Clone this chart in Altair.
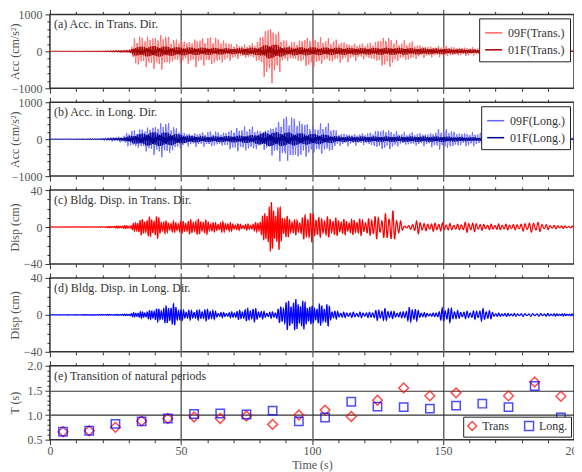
import numpy as np
import pandas as pd
import altair as alt

alt.data_transformers.disable_max_rows()

FONT = "Liberation Serif"
W, H = 525, 74

# ---------------- data ----------------
# amplitude envelopes (time in s, peak amplitude)
ACC_T09_TIME = [0, 10, 20, 24, 31, 32.5, 34, 37, 40, 44, 46, 50, 53, 56, 58, 62, 66, 70, 74, 78,
                80, 81, 83, 85, 87, 88, 89, 91, 94, 96, 99, 102, 106, 110, 115, 120, 124, 127, 130, 133,
                137, 141, 146, 150, 155, 160, 165, 170, 175, 180, 185, 190, 195, 200]
ACC_T09_AMP = [10, 15, 25, 40, 60, 480, 450, 480, 500, 560, 380, 380, 350, 450, 420, 450, 350, 250, 200, 260,
               400, 650, 880, 860, 700, 550, 400, 300, 300, 380, 520, 450, 380, 350, 280, 250, 300, 480, 470, 300,
               320, 200, 170, 180, 130, 140, 110, 110, 100, 110, 100, 80, 50, 30]
ACC_T01_TIME = [0, 20, 30, 32.5, 40, 45, 50, 60, 70, 80, 83, 86, 90, 100, 110, 120, 130, 140, 150, 160,
                170, 180, 190, 200]
ACC_T01_AMP = [5, 12, 30, 120, 150, 130, 110, 100, 80, 110, 200, 190, 110, 110, 100, 90, 100, 85, 75, 55,
               45, 40, 30, 15]
ACC_L09_TIME = [0, 18, 22, 28, 30, 34, 38, 41, 44, 46, 49, 52, 58, 62, 66, 70, 74, 78, 80, 83,
                86, 89, 92, 95, 98, 101, 104, 107, 110, 118, 122, 126, 130, 134, 140, 145, 148, 152, 156, 162,
                166, 170, 180, 190, 200]
ACC_L09_AMP = [5, 20, 60, 100, 250, 300, 400, 480, 570, 450, 320, 200, 220, 250, 200, 350, 380, 380, 250, 350,
               500, 720, 700, 600, 550, 400, 500, 450, 200, 180, 200, 320, 300, 200, 200, 200, 320, 300, 200, 220,
               150, 80, 80, 60, 40]
ACC_L01_TIME = [0, 20, 28, 32, 38, 44, 48, 52, 60, 70, 78, 82, 90, 98, 104, 110, 130, 150, 160, 170, 185, 200]
ACC_L01_AMP = [5, 15, 45, 115, 190, 190, 150, 100, 75, 90, 115, 190, 190, 150, 135, 75, 75, 75, 55, 40, 30, 20]
DISP_T_TIME = [0, 20, 25, 31, 33, 36, 39, 41, 43, 46, 50, 53, 57, 60, 63, 67, 70, 74, 78, 80,
               81.5, 83.5, 86, 87.5, 89, 92, 95, 97, 99, 101, 103, 106, 110, 114, 118, 121, 124, 126, 129, 131,
               133, 135, 137, 139, 141, 143, 148, 152, 156, 159, 162, 166, 172, 178, 182, 186, 189, 195, 200]
DISP_T_AMP = [0.1, 0.3, 1, 2, 7, 10, 12, 13, 8, 6, 7, 8, 9, 8, 5, 6, 4, 3, 4, 8,
              14, 30, 24, 26, 15, 10, 8, 14, 18, 16, 11, 12, 10, 8, 10, 8, 15, 10, 17, 18,
              10, 2, 1.5, 6, 8, 4, 5, 4, 3, 6, 5, 3, 3.5, 3, 5, 6, 3, 1.5, 1]
DISP_L_TIME = [0, 25, 30, 33, 37, 40, 43, 46, 48, 50, 54, 58, 61, 64, 68, 72, 75, 78, 80, 83,
               86, 88, 90, 93, 96, 98, 100, 103, 106, 108, 112, 118, 122, 125, 128, 131, 134, 137, 139, 141,
               144, 147, 150, 153, 156, 161, 165, 167, 170, 180, 190, 200]
DISP_L_AMP = [0.1, 0.5, 1, 3, 4, 7, 8, 12.5, 12, 6, 5, 6, 7, 3, 2.5, 5, 7, 8, 5, 3,
              4, 10, 16, 18, 17, 15, 10, 12, 13, 5, 3, 3, 3, 6, 7, 4, 3, 8, 9, 4,
              2, 2, 8, 8, 4, 4, 7, 6, 2, 1.5, 1.5, 1]

# natural periods (panel e)
PERIOD_TIME = [5, 15, 25, 35, 45, 55, 65, 75, 85, 95, 105, 115, 125, 135, 145, 155, 165, 175, 185, 195]
PERIOD_TRANS = [0.66, 0.68, 0.75, 0.88, 0.93, 0.96, 0.93, 0.98, 0.81, 1.00, 1.10, 0.97, 1.30, 1.55, 1.39,
                1.45, None, 1.39, 1.67, 1.38]
PERIOD_LONG = [0.66, 0.68, 0.82, 0.87, 0.93, 1.02, 1.03, 1.01, 1.09, 0.87, 0.95, 1.27, 1.17, 1.16, 1.13,
               1.19, 1.23, 1.16, 1.59, 0.95]

SER_T = ["09F(Trans.)", "01F(Trans.)"]
SER_L = ["09F(Long.)", "01F(Long.)"]
COL_T = ["#ff6464", "#a00000"]
COL_L = ["#6464ff", "#00008f"]
LABELS = ["(a) Acc. in Trans. Dir.", "(b) Acc. in Long. Dir.", "(c) Bldg. Disp. in Trans. Dir.",
          "(d) Bldg. Disp. in Long. Dir.", "(e) Transition of natural periods"]

# ---------------- traces (envelopes above carry the amplitudes) ----------------
DT_A, DT_D = 0.05, 0.1
t_acc = np.round(np.arange(0, 200 + 1e-9, DT_A), 2)
t_disp = np.round(np.arange(0, 200 + 1e-9, DT_D), 2)


def acc_trace(kt, ka, upper):
    env = np.interp(t_acc, kt, ka)
    if upper:
        m = 0.5 + 0.5 * np.abs(np.sin(2 * np.pi * t_acc / 2.9 + 0.3) * np.cos(2 * np.pi * t_acc / 5.3))
        c = np.sin(2 * np.pi * t_acc / 1.0) * m + 0.08 * np.sin(2 * np.pi * t_acc / 0.23 + 1.3)
    else:
        c = 0.6 * np.sin(2 * np.pi * t_acc / 0.33) + 0.4 * np.sin(2 * np.pi * t_acc / 0.71 + 2.1)
    c = c / np.abs(c).max()
    return np.round(env * c, 1)


def disp_trace(kt, ka, pt, pv):
    env = np.interp(t_disp, kt, ka)
    per = np.interp(t_disp, pt, pv)
    phase = 2 * np.pi * np.cumsum(DT_D / per)
    m = 0.75 + 0.25 * np.sin(2 * np.pi * t_disp / 3.1)
    return np.round(env * m * np.sin(phase), 2)


per_t = pd.DataFrame({"t": PERIOD_TIME, "T": PERIOD_TRANS}).dropna()
per_l = pd.DataFrame({"t": PERIOD_TIME, "T": PERIOD_LONG}).dropna()

df_t09 = pd.DataFrame({"t": t_acc, "v": acc_trace(ACC_T09_TIME, ACC_T09_AMP, True), "series": SER_T[0]})
df_t01 = pd.DataFrame({"t": t_acc, "v": acc_trace(ACC_T01_TIME, ACC_T01_AMP, False), "series": SER_T[1]})
df_l09 = pd.DataFrame({"t": t_acc, "v": acc_trace(ACC_L09_TIME, ACC_L09_AMP, True), "series": SER_L[0]})
df_l01 = pd.DataFrame({"t": t_acc, "v": acc_trace(ACC_L01_TIME, ACC_L01_AMP, False), "series": SER_L[1]})
df_dt = pd.DataFrame({"t": t_disp, "v": disp_trace(DISP_T_TIME, DISP_T_AMP, per_t["t"], per_t["T"])})
df_dl = pd.DataFrame({"t": t_disp, "v": disp_trace(DISP_L_TIME, DISP_L_AMP, per_l["t"], per_l["T"])})
df_pt = per_t.assign(series="Trans")
df_pl = per_l.assign(series="Long.")

# ---------------- axes ----------------
X_TICKS = list(range(0, 201, 10))
XS = alt.Scale(domain=[0, 200], nice=False, zero=False)
COMMON = dict(domain=False, tickColor="#333", tickWidth=1, labelFont=FONT, labelFontSize=12,
              labelColor="#555", labelFlush=False, labelOverlap=False, titleFont=FONT,
              titleFontSize=12, titleColor="#555", titleFontWeight="normal")


def tsize(test):
    return {"condition": {"test": test, "value": 5}, "value": 3}


def x_bottom(last):
    kw = dict(orient="bottom", values=X_TICKS, tickSize=tsize("datum.value % 50 === 0"),
              labels=last, labelExpr="datum.value % 50 === 0 ? datum.label : ''", labelPadding=1,
              grid=True, gridColor="#666", gridWidth=1.5,
              gridOpacity={"condition": {"test": "datum.value % 50 === 0 && datum.value > 0 && datum.value < 200",
                                         "value": 1}, "value": 0},
              titlePadding=3, **COMMON)
    kw["title"] = "Time (s)" if last else None
    return alt.Axis(**kw)


X_TOP = alt.Axis(orient="top", values=X_TICKS, tickSize=tsize("datum.value % 50 === 0"), labels=False,
                 grid=False, title=None, **COMMON)


def y_left(values, major, title, fmt="d", grid_test=None):
    kw = dict(orient="left", values=values, tickSize=tsize(major), format=fmt,
              labelExpr="(%s) ? datum.label : ''" % major, labelPadding=3, title=title,
              titleX=-28, titleY=H / 2, **COMMON)
    if grid_test:
        kw.update(grid=True, gridColor="#333", gridWidth=1.2,
                  gridOpacity={"condition": {"test": grid_test, "value": 1}, "value": 0})
    else:
        kw["grid"] = False
    return alt.Axis(**kw)


def y_right(values, major):
    return alt.Axis(orient="right", values=values, tickSize=tsize(major), labels=False, grid=False,
                    title=None, **COMMON)


def label_layer(text):
    return alt.Chart(pd.DataFrame({"label": [text]})).mark_text(
        align="left", baseline="top", font=FONT, fontSize=12, color="#333"
    ).encode(x=alt.value(4), y=alt.value(5), text="label:N")


def carrier(ydom, yaxis):
    d = pd.DataFrame({"t": [0, 200], "v": ydom})
    return alt.Chart(d).mark_line(opacity=0).encode(
        x=alt.X("t:Q", scale=XS, axis=X_TOP),
        y=alt.Y("v:Q", scale=alt.Scale(domain=ydom, nice=False, zero=False), axis=yaxis))


def line_legend():
    return alt.Legend(orient="top-right", offset=4, title=None, symbolType="stroke", symbolSize=289,
                      symbolStrokeWidth=1.5, labelFont=FONT, labelFontSize=12, labelColor="#333",
                      labelOffset=5, strokeColor="#222", fillColor="white", padding=5, rowPadding=1,
                      cornerRadius=0)


def acc_panel(d09, d01, series, colors, title, label):
    dom = [-1000, 1000]
    ys = alt.Scale(domain=dom, nice=False, zero=False)
    vals = list(range(-1000, 1001, 200))
    major = "datum.value % 1000 === 0"
    cs = alt.Scale(domain=series, range=colors)
    l1 = alt.Chart(d09).mark_line(strokeWidth=0.9, clip=True).encode(
        x=alt.X("t:Q", scale=XS, axis=x_bottom(False)),
        y=alt.Y("v:Q", scale=ys, axis=y_left(vals, major, title)),
        color=alt.Color("series:N", scale=cs, legend=line_legend()))
    l2 = alt.Chart(d01).mark_line(strokeWidth=0.9, clip=True).encode(
        x=alt.X("t:Q", scale=XS, axis=None),
        y=alt.Y("v:Q", scale=ys, axis=None),
        color=alt.Color("series:N", scale=cs, legend=line_legend()))
    return alt.layer(l1, l2, carrier(dom, y_right(vals, major)), label_layer(label)).resolve_axis(
        x="independent", y="independent").properties(width=W, height=H)


def disp_panel(d, color, label):
    dom = [-40, 40]
    ys = alt.Scale(domain=dom, nice=False, zero=False)
    vals = list(range(-40, 41, 10))
    major = "datum.value % 40 === 0"
    l1 = alt.Chart(d).mark_line(strokeWidth=1.2, color=color, clip=True).encode(
        x=alt.X("t:Q", scale=XS, axis=x_bottom(False)),
        y=alt.Y("v:Q", scale=ys, axis=y_left(vals, major, "Disp (cm)")))
    return alt.layer(l1, carrier(dom, y_right(vals, major)), label_layer(label)).resolve_axis(
        x="independent", y="independent").properties(width=W, height=H)


def period_panel():
    dom = [0.5, 2.0]
    ys = alt.Scale(domain=dom, nice=False, zero=False)
    vals = [round(v, 1) for v in np.arange(0.5, 2.0001, 0.1)]
    major = "abs(datum.value * 2 - round(datum.value * 2)) < 0.001"
    grid_test = "datum.value > 0.95 && datum.value < 1.55 && " + major
    cs = alt.Scale(domain=["Trans", "Long."], range=["#ff0000", "#0000ff"])
    ss = alt.Scale(domain=["Trans", "Long."], range=["diamond", "square"])
    leg = alt.Legend(orient="bottom-right", offset=3, title=None, direction="horizontal", symbolSize=80,
                     symbolStrokeWidth=1.5, labelFont=FONT, labelFontSize=12, labelColor="#333",
                     labelOffset=4, columnPadding=12, strokeColor="#222", fillColor="white", padding=3,
                     cornerRadius=0)
    p1 = alt.Chart(df_pt).mark_point(filled=False, size=95, strokeWidth=1.5).encode(
        x=alt.X("t:Q", scale=XS, axis=x_bottom(True)),
        y=alt.Y("T:Q", scale=ys, axis=y_left(vals, major, "T (s)", fmt=".1f", grid_test=grid_test)),
        color=alt.Color("series:N", scale=cs, legend=leg),
        shape=alt.Shape("series:N", scale=ss, legend=leg))
    p2 = alt.Chart(df_pl).mark_point(filled=False, size=70, strokeWidth=1.5).encode(
        x=alt.X("t:Q", scale=XS, axis=None),
        y=alt.Y("T:Q", scale=ys, axis=None),
        color=alt.Color("series:N", scale=cs, legend=leg),
        shape=alt.Shape("series:N", scale=ss, legend=leg))
    return alt.layer(p1, p2, carrier(dom, y_right(vals, major)), label_layer(LABELS[4])).resolve_axis(
        x="independent", y="independent").properties(width=W, height=H)


pa = acc_panel(df_t09, df_t01, SER_T, COL_T, "Acc (cm/s²)", LABELS[0])
pb = acc_panel(df_l09, df_l01, SER_L, COL_L, "Acc (cm/s²)", LABELS[1])
pc = disp_panel(df_dt, "#ff0000", LABELS[2])
pd_ = disp_panel(df_dl, "#0000ff", LABELS[3])
pe = period_panel()

chart = alt.vconcat(pa, pb, pc, pd_, pe, spacing=14, bounds="flush").resolve_scale(
    color="independent", shape="independent", x="independent", y="independent"
).properties(padding={"left": 0, "top": -1, "right": -10, "bottom": 0}).configure_view(
    stroke="#333", strokeWidth=1.5)

chart.save("out.html", embed_options={"renderer": "svg", "actions": False})
